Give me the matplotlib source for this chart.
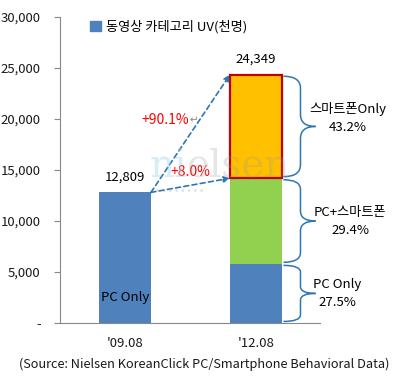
import matplotlib
matplotlib.use("Agg")
import matplotlib.pyplot as plt
from matplotlib.path import Path
from matplotlib.patches import PathPatch

plt.rcParams['font.family'] = ['Noto Sans CJK KR', 'DejaVu Sans']

# data (천명)
periods = ["'09.08", "'12.08"]
total_0908 = 12809
seg_names = ["PC Only", "PC+스마트폰", "스마트폰Only"]
seg_vals = [5800, 8400, 10149]
seg_pcts = ["27.5%", "29.4%", "43.2%"]
total_1208 = 24349
growth_labels = ["+90.1%", "+8.0%"]
yticks = [0, 5000, 10000, 15000, 20000, 25000, 30000]
ytick_labels = ["-", "5,000", "10,000", "15,000", "20,000", "25,000", "30,000"]
legend_label = "동영상 카테고리 UV(천명)"
source = "(Source: Nielsen KoreanClick PC/Smartphone Behavioral Data)"

blue = "#4f81bd"
green = "#92d050"
orange = "#ffc000"
arrow_c = "#2e75b6"

fig = plt.figure(figsize=(4, 3.8), dpi=100)
ax = fig.add_axes([0.15, 0.15, 0.65, 0.805])

w = 0.397
ax.bar(0, total_0908, width=w, color=blue, zorder=2)
bottom = 0
cols = [blue, green, orange]
for i, v in enumerate(seg_vals):
    if i == 2:
        ax.bar(1, v, width=w, bottom=bottom, color=cols[i], edgecolor="#c00000", linewidth=1.6, zorder=2)
    else:
        ax.bar(1, v, width=w, bottom=bottom, color=cols[i], zorder=2)
    bottom += v

ax.set_xlim(-0.496, 1.489)
ax.set_ylim(0, 30000)
ax.set_yticks(yticks)
ax.set_yticklabels(ytick_labels, fontsize=9.5, color="#1a1a1a")
ax.set_xticks([0, 1])
ax.set_xticklabels(periods, fontsize=9.5, color="#1a1a1a")
ax.tick_params(axis='x', length=0, pad=10)
ax.tick_params(axis='y', length=4, color="#888888", pad=10)
for s in ["top", "right"]:
    ax.spines[s].set_visible(False)
ax.spines["left"].set_color("#888888")
ax.spines["bottom"].set_color("#888888")

# value labels
ax.text(0, total_0908 + 900, f"{total_0908:,}", ha="center", va="bottom", fontsize=9.5)
ax.text(1, total_1208 + 900, f"{total_1208:,}", ha="center", va="bottom", fontsize=9.5)
ax.text(0, 2500, "PC Only", ha="center", va="center", fontsize=9.5)

# dashed growth arrows
x0 = w / 2
x1 = 1 - w / 2
pc_total = seg_vals[0] + seg_vals[1]
for yend in [total_1208, pc_total]:
    ax.annotate("", xy=(x1, yend), xytext=(x0, total_0908),
                arrowprops=dict(arrowstyle="-|>", color=arrow_c, linestyle=(0, (3, 2)),
                                lw=1.2, mutation_scale=9, shrinkA=0, shrinkB=0), zorder=3)
ax.text(0.31, 19900, growth_labels[0], ha="center", va="center", fontsize=10, color="red")
ax.text(0.525, 19900, "↵", ha="center", va="center", fontsize=7.5, color="#888888",
        family="DejaVu Sans")
ax.text(0.50, 14850, growth_labels[1], ha="center", va="center", fontsize=10, color="red")

# curly braces
def brace(y0, y1):
    xs, xb, xt = 1.21, 1.34, 1.455
    r = (y1 - y0) * 0.12
    ym = (y0 + y1) / 2
    verts = [(xs, y0), (xb, y0), (xb, y0 + r),
             (xb, ym - r),
             (xb, ym), (xt, ym),
             (xt, ym), (xb, ym), (xb, ym + r),
             (xb, y1 - r),
             (xb, y1), (xs, y1)]
    codes = [Path.MOVETO, Path.CURVE3, Path.CURVE3,
             Path.LINETO,
             Path.CURVE3, Path.CURVE3,
             Path.MOVETO, Path.CURVE3, Path.CURVE3,
             Path.LINETO,
             Path.CURVE3, Path.CURVE3]
    return PathPatch(Path(verts, codes), fill=False, edgecolor=arrow_c, lw=1.1, clip_on=False)

lo = 0
label_x = [1.62, 1.72, 1.70]
label_dy = [0, 0, 800]
for i, v in enumerate(seg_vals):
    ax.add_patch(brace(lo + 150, lo + v - 150))
    ym = lo + v / 2 + label_dy[i]
    ax.text(label_x[i], ym, seg_names[i] + "\n" + seg_pcts[i], ha="center", va="center",
            fontsize=9.5, linespacing=1.5, clip_on=False)
    lo += v

# legend
ax.legend([plt.Rectangle((0, 0), 1, 1, color=blue)], [legend_label], loc="upper left",
          bbox_to_anchor=(0.07, 1.03), frameon=False, fontsize=9.5, handlelength=0.8,
          handleheight=0.8, handletextpad=0.4)

# watermark
fig.text(0.375, 0.535, "ni", fontsize=28, family="DejaVu Serif", color="#9fd0e6", alpha=0.4)
fig.text(0.465, 0.535, "elsen", fontsize=28, family="DejaVu Serif", color="#999999", alpha=0.25)
fig.text(0.39, 0.49, "• • • • • • • •", fontsize=8, color="#999999", alpha=0.3)

fig.text(0.51, 0.04, source, ha="center", va="center", fontsize=9.2, color="#1a1a1a")

fig.savefig("out.png", dpi=100)
